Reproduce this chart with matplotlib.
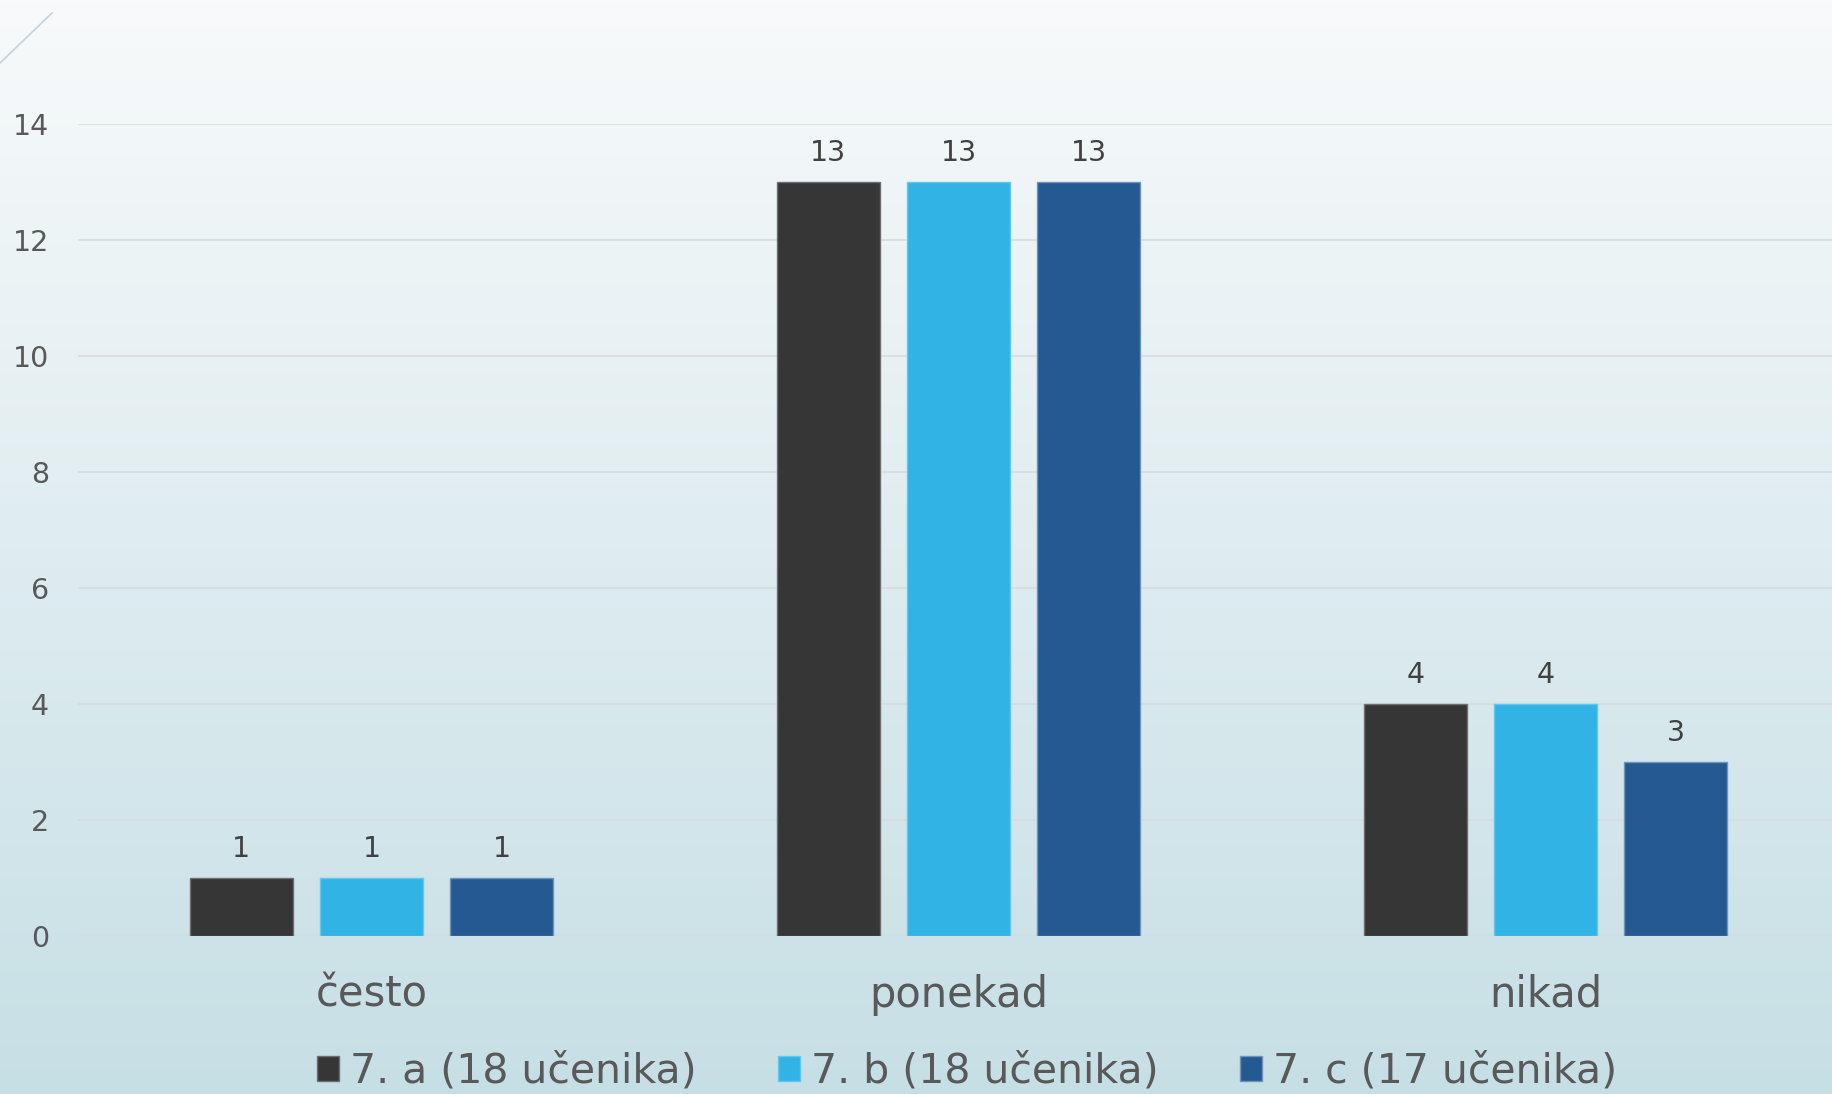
import numpy as np
import matplotlib.pyplot as plt
from matplotlib.lines import Line2D

# Podaci s grafa
kategorije = ["često", "ponekad", "nikad"]
razredi = ["7. a (18 učenika)", "7. b (18 učenika)", "7. c (17 učenika)"]
vrijednosti_a = [1, 13, 4]
vrijednosti_b = [1, 13, 4]
vrijednosti_c = [1, 13, 3]
boje = ["#363636", "#31B4E5", "#245992"]
rubovi = ["#6e6e6e", "#62c8ee", "#6f93bb"]

W, H = 1832, 1094
fig = plt.figure(figsize=(W / 100, H / 100), dpi=100)

# pozadina s gradijentom
bg = fig.add_axes([0, 0, 1, 1], zorder=0)
vrh = np.array([248, 250, 251]) / 255
dno = np.array([198, 223, 229]) / 255
t = np.linspace(0, 1, 256)[:, None]
grad = (vrh[None, :] * (1 - t) + dno[None, :] * t)[:, None, :]
bg.imshow(grad, aspect="auto", extent=[0, 1, 0, 1], origin="upper")
bg.axis("off")

# ukrasna linija u kutu
fig.add_artist(Line2D([0, 52 / W], [1 - 63 / H, 1 - 13 / H], transform=fig.transFigure,
                      color="#c3d3dd", lw=1.2))

ax = fig.add_axes([78 / W, 1 - 936 / H, 1 - 78 / W, (936 - 124) / H], zorder=1)
ax.patch.set_alpha(0)

x = np.arange(len(kategorije))
sirina = 0.175
pomak = 0.222
serije = [vrijednosti_a, vrijednosti_b, vrijednosti_c]
for i, vals in enumerate(serije):
    stupci = ax.bar(x + (i - 1) * pomak, vals, sirina, color=boje[i], edgecolor=rubovi[i],
                    linewidth=1.0, label=razredi[i], zorder=3)
    for s, v in zip(stupci, vals):
        ax.annotate(str(v), (s.get_x() + s.get_width() / 2, v), xytext=(0, 10.5),
                    textcoords="offset points", ha="center", va="bottom",
                    fontsize=20.5, color="#404040")

ax.set_xlim(-0.5, 2.488)
ax.set_ylim(0, 14)
ax.set_yticks(range(0, 15, 2))
ax.set_xticks(x)
ax.set_xticklabels(kategorije)
ax.grid(axis="y", color="#d9d9d9", lw=1.1, zorder=0)
ax.set_axisbelow(True)
for sp in ax.spines.values():
    sp.set_visible(False)
ax.tick_params(axis="y", length=0, pad=21, labelsize=20.5, labelcolor="#595959")
ax.tick_params(axis="x", length=0, pad=27, labelsize=30, labelcolor="#595959")

fig.legend(loc="center", bbox_to_anchor=(967 / W, 1 - 1072 / H), ncol=3, frameon=False,
           fontsize=29.5, labelcolor="#595959", handlelength=0.54, handleheight=0.54,
           handletextpad=0.25, columnspacing=2.0, borderpad=0)

plt.savefig("out.png", dpi=100)
plt.close()
